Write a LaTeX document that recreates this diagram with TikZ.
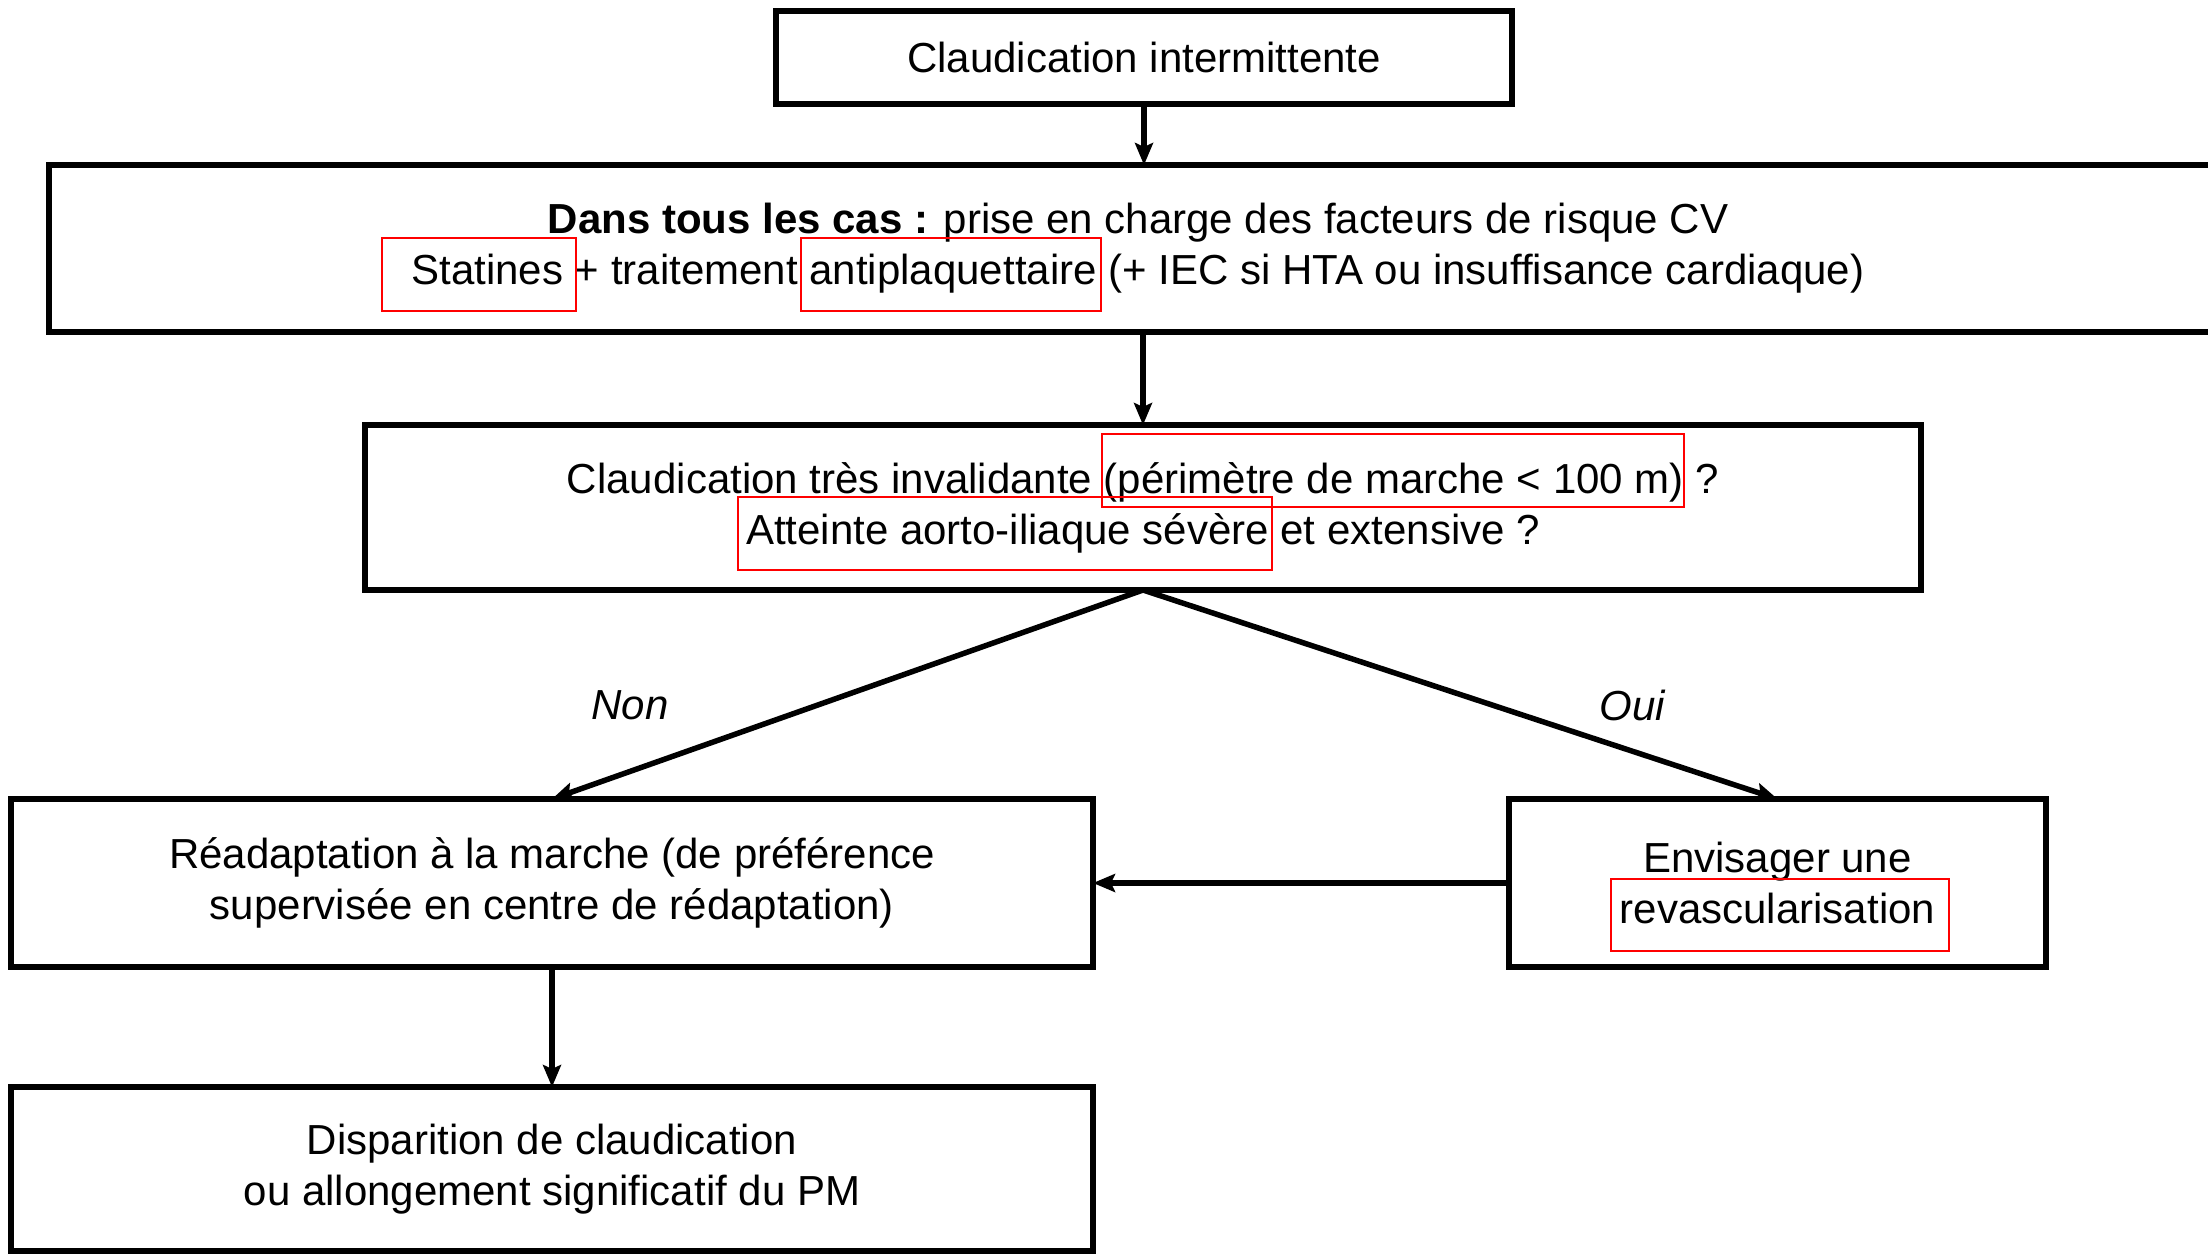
\documentclass[tikz,border=0pt]{standalone}
\usepackage{fontspec}
\setmainfont{Liberation Sans}
\usetikzlibrary{arrows.meta}
\tikzset{
  box/.style={draw=black, line width=6pt, rectangle, inner sep=0pt, outer sep=0pt, align=center,
    font=\fontsize{42}{51}\selectfont},
  conn/.style={line width=5.5pt, -{Stealth[length=22pt,width=18pt,inset=4pt]}},
  lab/.style={font=\fontsize{42}{48}\selectfont\itshape, inner sep=0pt},
  redmark/.style={draw=red, line width=2.2pt}
}
\begin{document}
\begin{tikzpicture}[x=1pt,y=-1pt]
\fill[white] (0,0) rectangle (2208,1253);
\useasboundingbox (0,0) rectangle (2208,1253);

\node[box, minimum width=736pt, minimum height=93pt] (b1) at (1144,57.5) {Claudication intermittente};
\node[box, minimum width=2178pt, minimum height=167pt] (b2) at (1138,248.5)
  {\textbf{Dans tous les cas :} prise en charge des facteurs de risque CV\\
   Statines + traitement antiplaquettaire (+ IEC si HTA ou insuffisance cardiaque)};
\node[box, minimum width=1556pt, minimum height=165pt] (b3) at (1143,507.5)
  {Claudication très invalidante (périmètre de marche < 100 m) ?\\
   Atteinte aorto-iliaque sévère et extensive ?};
\node[box, minimum width=1082pt, minimum height=168pt] (b4) at (552,883)
  {Réadaptation à la marche (de préférence\\supervisée en centre de rédaptation)};
\node[box, minimum width=537pt, minimum height=168pt] (b5) at (1777.5,883)
  {Envisager une\\revascularisation};
\node[box, minimum width=1082pt, minimum height=164pt] (b6) at (552,1169)
  {Disparition de claudication\\ou allongement significatif du PM};

\node[lab] (non) at (630,705) {Non};
\node[lab] (oui) at (1632,705) {Oui};

\draw[conn] (b1.south) -- (b1.south |- b2.north);
\draw[conn] (b3.north |- b2.south) -- (b3.north);
\draw[conn] (b3.south) -- (b4.north);
\draw[conn] (b3.south) -- (b5.north);
\draw[conn] (b5.west) -- (b4.east);
\draw[conn] (b4.south) -- (b6.north);

\draw[redmark] (382,238) rectangle (576,311);
\draw[redmark] (801,238) rectangle (1101,311);
\draw[redmark] (1102,434) rectangle (1684,507);
\draw[redmark] (738,497) rectangle (1272,570);
\draw[redmark] (1611,879) rectangle (1949,951);
\end{tikzpicture}
\end{document}
